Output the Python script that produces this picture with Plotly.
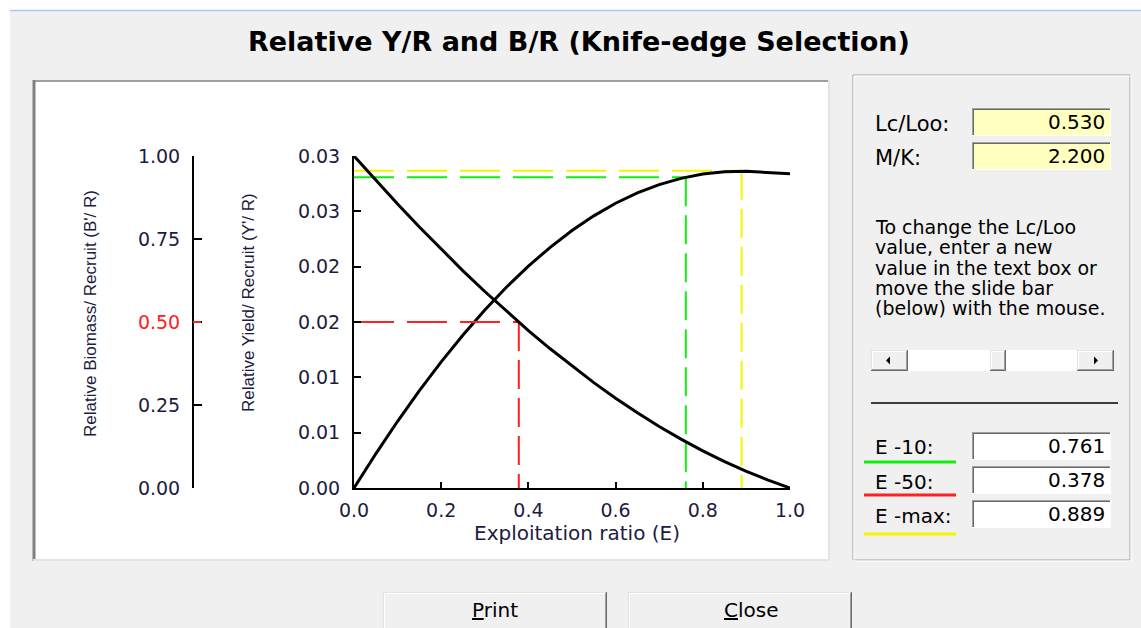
import plotly.graph_objects as go

# ---------------- data ----------------
E = [0.00, 0.05, 0.10, 0.15, 0.20, 0.25, 0.30, 0.35, 0.40, 0.45, 0.50,
     0.55, 0.60, 0.65, 0.70, 0.75, 0.80, 0.85, 0.90, 0.95, 1.00]
YR = [0.0, 0.00309, 0.00603, 0.00880, 0.01140, 0.01383, 0.01608, 0.01816,
      0.02005, 0.02175, 0.02327, 0.02459, 0.02573, 0.02667, 0.02742,
      0.02798, 0.02837, 0.02858, 0.02862, 0.02852, 0.02840]
BR = [1.0, 0.9266, 0.8552, 0.7860, 0.7190, 0.6542, 0.5918, 0.5318, 0.4742,
      0.4193, 0.3669, 0.3173, 0.2705, 0.2265, 0.1853, 0.1471, 0.1118,
      0.0795, 0.0502, 0.0237, 0.0]

E10 = 0.761
E50 = 0.378
EMAX = 0.889
Y_E10 = 0.02807
Y_EMAX = 0.02866
B_HALF = 0.5
LC_LOO = 0.530
M_K = 2.200

X_TICKS = [0.0, 0.2, 0.4, 0.6, 0.8, 1.0]
X_LABELS = ["0.0", "0.2", "0.4", "0.6", "0.8", "1.0"]
YR_TICKS = [0.0, 0.005, 0.01, 0.015, 0.02, 0.025, 0.03]
YR_LABELS = ["0.00", "0.01", "0.01", "0.02", "0.02", "0.03", "0.03"]
BR_TICKS = [0.0, 0.25, 0.5, 0.75, 1.0]
BR_LABELS = ["0.00", "0.25", "<span style='color:#ff2020'>0.50</span>", "0.75", "1.00"]

TITLE = "Relative Y/R and B/R (Knife-edge Selection)"
X_TITLE = "Exploitation ratio (E)"
Y_TITLE = "Relative Yield/ Recruit (Y'/ R)"
Y2_TITLE = "Relative Biomass/ Recruit (B'/ R)"
HELP_LINES = ["To change the Lc/Loo", "value, enter a new", "value in the text box or",
              "move the slide bar", "(below) with the mouse."]

# ---------------- helpers for window chrome ----------------
W, H = 1141, 628
shapes, annotations = [], []


def X(p):
    return p / W


def Y(p):
    return 1 - p / H


def rect(x0, y0, x1, y1, fill, line_color=None, lw=0):
    shapes.append(dict(type="rect", xref="paper", yref="paper",
                       x0=X(x0), x1=X(x1), y0=Y(y1), y1=Y(y0),
                       fillcolor=fill,
                       line=dict(color=line_color or "rgba(0,0,0,0)", width=lw),
                       layer="below"))


def seg(x0, y0, x1, y1, color, lw=1):
    shapes.append(dict(type="line", xref="paper", yref="paper",
                       x0=X(x0), x1=X(x1), y0=Y(y0), y1=Y(y1),
                       line=dict(color=color, width=lw), layer="below"))


def sunken(x0, y0, x1, y1, fill):
    rect(x0, y0, x1, y1, fill)
    seg(x0, y0 + 0.5, x1, y0 + 0.5, "#a0a0a0")
    seg(x0 + 1, y0 + 1.5, x1 - 1, y0 + 1.5, "#696969")
    seg(x0 + 0.5, y0, x0 + 0.5, y1, "#a0a0a0")
    seg(x0 + 1.5, y0 + 1, x0 + 1.5, y1 - 1, "#696969")
    seg(x0, y1 - 0.5, x1, y1 - 0.5, "#ffffff")
    seg(x1 - 0.5, y0, x1 - 0.5, y1, "#ffffff")


def raised(x0, y0, x1, y1, fill="#f0f0f0"):
    rect(x0, y0, x1, y1, fill)
    seg(x0, y0 + 0.5, x1, y0 + 0.5, "#e3e3e3")
    seg(x0 + 0.5, y0, x0 + 0.5, y1, "#e3e3e3")
    seg(x0 + 1, y0 + 1.5, x1 - 1, y0 + 1.5, "#ffffff")
    seg(x0 + 1.5, y0 + 1, x0 + 1.5, y1 - 1, "#ffffff")
    seg(x0, y1 - 0.5, x1, y1 - 0.5, "#696969")
    seg(x1 - 0.5, y0, x1 - 0.5, y1, "#696969")
    seg(x0 + 1, y1 - 1.5, x1 - 1, y1 - 1.5, "#a0a0a0")
    seg(x1 - 1.5, y0 + 1, x1 - 1.5, y1 - 1, "#a0a0a0")


def text(x, y, s, size=19, anchor="left", color="#000000",
         family="DejaVu Sans", angle=0):
    annotations.append(dict(xref="paper", yref="paper", x=X(x), y=Y(y), text=s,
                            showarrow=False, xanchor=anchor, yanchor="middle",
                            textangle=angle,
                            font=dict(family=family, size=size, color=color)))


# window background pieces
rect(0, 0, W, 10, "#ffffff")
rect(0, 0, 10, H, "#ffffff")
seg(10, 10.5, W, 10.5, "#a9c8ea", 1.5)

# chart panel (sunken, white)
rect(33, 80, 830, 561, "#ffffff")
seg(33, 81, 830, 81, "#a0a0a0", 2)
seg(34, 80, 34, 561, "#808080", 3)
seg(33, 560, 830, 560, "#e3e3e3", 2)
seg(829, 80, 829, 561, "#e3e3e3", 2)

# right control panel (etched frame)
rect(853, 75, 1130, 560, "rgba(0,0,0,0)", "#a0a0a0", 1)
rect(854, 76, 1131, 561, "rgba(0,0,0,0)", "#ffffff", 1)

# input boxes
sunken(972, 108, 1111, 136, "#ffffc0")
sunken(972, 142, 1111, 170, "#ffffc0")
sunken(972, 432, 1111, 460, "#ffffff")
sunken(972, 466, 1111, 494, "#ffffff")
sunken(972, 500, 1111, 528, "#ffffff")

# scrollbar
rect(871, 350, 1114, 371, "#ffffff")
raised(871, 350, 908, 371)
raised(990, 350, 1006, 371)
raised(1077, 350, 1114, 371)
shapes.append(dict(type="path", xref="paper", yref="paper",
                   path=f"M {X(886)} {Y(360.5)} L {X(890)} {Y(356.5)} L {X(890)} {Y(364.5)} Z",
                   fillcolor="#000000", line=dict(width=0), layer="below"))
shapes.append(dict(type="path", xref="paper", yref="paper",
                   path=f"M {X(1098)} {Y(360.5)} L {X(1094)} {Y(356.5)} L {X(1094)} {Y(364.5)} Z",
                   fillcolor="#000000", line=dict(width=0), layer="below"))

# separator
seg(871, 403, 1118, 403, "#000000", 1.5)

# coloured underlines
seg(864, 462, 956, 462, "#11ee11", 3)
seg(864, 495, 956, 495, "#ff2020", 3)
seg(864, 534, 956, 534, "#f5f500", 3)

# buttons
raised(383, 592, 607, 640)
raised(628, 592, 852, 640)

# red tick on the B'/R axis at 0.50
shapes.append(dict(type="line", xref="paper", yref="y2",
                   x0=X(193), x1=X(201), y0=B_HALF, y1=B_HALF,
                   line=dict(color="#ff2020", width=2), layer="above"))

# texts
text(579, 42, "<b>" + TITLE + "</b>", size=27, anchor="center")
text(873, 124, "Lc/Loo:", size=21)
text(873, 158, "M/K:", size=21)
text(1107, 122, f"{LC_LOO:.3f}", size=20, anchor="right")
text(1107, 156, f"{M_K:.3f}", size=20, anchor="right")
for i, line in enumerate(HELP_LINES):
    text(873, 227 + i * 20.3, line, size=19)
text(873, 447, "E -10:", size=20)
text(873, 482, "E -50:", size=20)
text(873, 516, "E -max:", size=20)
text(1107, 446, f"{E10:.3f}", size=20, anchor="right")
text(1107, 480, f"{E50:.3f}", size=20, anchor="right")
text(1107, 514, f"{EMAX:.3f}", size=20, anchor="right")
text(495, 610, "<u>P</u>rint", size=20, anchor="center")
text(751, 610, "<u>C</u>lose", size=20, anchor="center")

AXIS_TXT = "#1c1c40"
text(577, 533, X_TITLE, size=20, anchor="center", color=AXIS_TXT)
text(248, 303, Y_TITLE, size=17, anchor="center", color=AXIS_TXT,
     family="Liberation Sans", angle=-90)
text(90, 314, Y2_TITLE, size=17, anchor="center", color=AXIS_TXT,
     family="Liberation Sans", angle=-90)

# ---------------- traces ----------------
fig = go.Figure()
H_DASH = "40px,13px"
V_DASH = "29px,9px"

fig.add_trace(go.Scatter(x=[0, E50], y=[B_HALF, B_HALF], yaxis="y2", mode="lines",
                         line=dict(color="#ff2020", width=2, dash=H_DASH)))
fig.add_trace(go.Scatter(x=[E50, E50], y=[B_HALF, 0], yaxis="y2", mode="lines",
                         line=dict(color="#ff2020", width=2, dash=V_DASH)))
fig.add_trace(go.Scatter(x=[0, E10], y=[Y_E10, Y_E10], mode="lines",
                         line=dict(color="#11ee11", width=2, dash=H_DASH)))
fig.add_trace(go.Scatter(x=[E10, E10], y=[Y_E10, 0], mode="lines",
                         line=dict(color="#11ee11", width=2, dash=V_DASH)))
fig.add_trace(go.Scatter(x=[0, EMAX], y=[Y_EMAX, Y_EMAX], mode="lines",
                         line=dict(color="#f5f500", width=2, dash=H_DASH)))
fig.add_trace(go.Scatter(x=[EMAX, EMAX], y=[Y_EMAX, 0], mode="lines",
                         line=dict(color="#f5f500", width=2, dash=V_DASH)))
fig.add_trace(go.Scatter(x=E, y=YR, mode="lines",
                         line=dict(color="#000000", width=3)))
fig.add_trace(go.Scatter(x=E, y=BR, yaxis="y2", mode="lines",
                         line=dict(color="#000000", width=3)))

tickfont = dict(family="DejaVu Sans", size=19, color=AXIS_TXT)
common = dict(showline=True, linecolor="#000000", linewidth=2, showgrid=False,
              zeroline=False, ticks="inside", tickcolor="#000000", tickwidth=2,
              tickfont=tickfont, fixedrange=True, automargin=False)

fig.update_layout(
    width=W, height=H,
    autosize=False,
    margin=dict(l=0, r=0, t=0, b=0, pad=0),
    paper_bgcolor="#f0f0f0",
    plot_bgcolor="rgba(0,0,0,0)",
    showlegend=False,
    hovermode=False,
    shapes=shapes,
    annotations=annotations,
    xaxis=dict(domain=[X(354), X(790)], range=[0, 1], tickmode="array",
               tickvals=X_TICKS, ticktext=X_LABELS, ticklen=6,
               ticklabelstandoff=4, **common),
    yaxis=dict(domain=[Y(488), Y(156)], range=[0, 0.03], tickmode="array",
               tickvals=YR_TICKS, ticktext=YR_LABELS, ticklen=7,
               ticklabelstandoff=8, **common),
    yaxis2=dict(overlaying="y", anchor="free", position=X(193), side="left",
                range=[0, 1], tickmode="array", tickvals=BR_TICKS,
                ticktext=BR_LABELS, ticklen=8, ticklabelstandoff=8, **common),
)

fig.write_html("out.html", config={"displayModeBar": False},
               post_script="document.body.style.margin='0px';")
